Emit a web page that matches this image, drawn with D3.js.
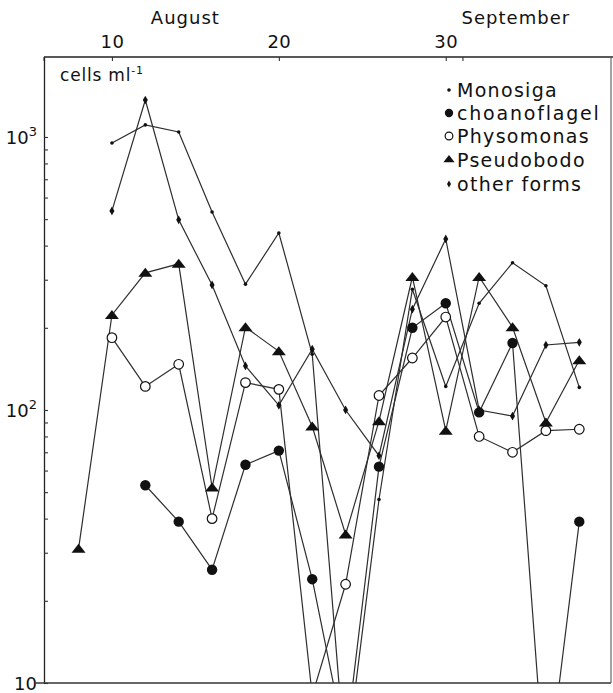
<!DOCTYPE html>
<html>
<head>
<meta charset="utf-8">
<script src="https://cdn.jsdelivr.net/npm/d3@7"></script>
<style>
  html, body { margin: 0; padding: 0; background: #fff; }
  svg { display: block; }
  text { font-family: "DejaVu Sans", sans-serif; fill: #111; }
</style>
</head>
<body>
<div id="chart"></div>
<script>
// ---- data (counts in cells ml-1; sampling day counted from 1 August) ----
const days = [8, 10, 12, 14, 16, 18, 20, 22, 24, 26, 28, 30, 32, 34, 36, 38];
const monosiga     = [null, 950, 1107, 1043, 531, 289, 445, 160, 5, 47, 277, 122, 246, 346, 285, 121];
const choanoflagel = [null, null, 53, 39, 26, 63, 71, 24, 6, 62, 200, 246, 98, 176, 4, 39];
const physomonas   = [null, 184, 122, 147, 40, 126, 119, 9, 23, 113, 155, 219, 80, 70, 84, 85];
const pseudobodo   = [31, 223, 318, 343, 52, 201, 164, 87, 35, 91, 307, 84, 307, 201, 90, 152];
const otherForms   = [null, 536, 1366, 497, 287, 145, 104, 167, 100, 68, 234, 423, 100, 95, 173, 177];

const seriesNames = ["Monosiga", "choanoflagel", "Physomonas", "Pseudobodo", "other forms"];
const xTickValues = [10, 20, 30, 31];
const xTickLabels = ["10", "20", "30", ""];
const monthLabels = ["August", "September"];
const monthDays = [14.4, 34.2];
const yMajorTicks = [10, 100, 1000];
const yTickExponents = ["", "2", "3"];
const unitLabel = "cells ml";

(function () {
const W = 613, H = 693;
const mL = 44, mR = 611, mT = 57, mB = 683;

const svg = d3.select("#chart").append("svg").attr("width", W).attr("height", H);

const x = d3.scaleLinear().domain([5.93, 39.9]).range([mL, mR]);
const y = d3.scaleLog().domain([10, 1963]).range([mB, mT]);

svg.append("clipPath").attr("id", "plotclip")
  .append("rect").attr("x", mL).attr("y", mT).attr("width", mR - mL).attr("height", mB - mT);

// left axis with inward ticks
const minorTicks = [];
[10, 100, 1000].forEach(d => { for (let k = 1; k <= 9; k++) { const v = d * k; if (v <= 1963) minorTicks.push(v); } });
const yAxis = d3.axisLeft(y).tickValues(minorTicks).tickSizeInner(-4).tickSizeOuter(0).tickFormat("");
svg.append("g").attr("transform", `translate(${mL},0)`).call(yAxis)
  .call(g => g.select(".domain").attr("stroke", "#222").attr("stroke-width", 1.3))
  .call(g => g.selectAll(".tick line").attr("stroke", "#333").attr("stroke-width", 1.1));

yMajorTicks.forEach((v, i) => {
  const t = svg.append("text").attr("x", 37).attr("y", y(v) + 7).attr("text-anchor", "end")
    .attr("font-size", 18);
  t.append("tspan").text("10");
  if (yTickExponents[i]) t.append("tspan").attr("dy", -8).attr("font-size", 13).text(yTickExponents[i]);
});

// top axis
const xAxis = d3.axisTop(x).tickValues(xTickValues).tickSizeInner(-4).tickSizeOuter(0)
  .tickPadding(9).tickFormat((d, i) => xTickLabels[i]);
svg.append("g").attr("transform", `translate(0,${mT})`).call(xAxis)
  .call(g => g.select(".domain").attr("d", `M${mL},0H${W}`).attr("stroke", "#222").attr("stroke-width", 1.3))
  .call(g => g.selectAll(".tick line").attr("stroke", "#333").attr("stroke-width", 1.1))
  .call(g => g.selectAll(".tick text").attr("font-size", 18).attr("fill", "#111")
    .attr("font-family", "DejaVu Sans").attr("letter-spacing", 0.5));

svg.append("line").attr("x1", mL).attr("x2", mL).attr("y1", mT).attr("y2", mT + 4).attr("stroke", "#222");

svg.append("line").attr("x1", mL - 8).attr("x2", mR).attr("y1", mB).attr("y2", mB)
  .attr("stroke", "#333").attr("stroke-width", 1.3);
svg.append("line").attr("x1", mR).attr("x2", mR).attr("y1", mT).attr("y2", mB)
  .attr("stroke", "#666").attr("stroke-width", 1.2);

monthLabels.forEach((m, i) => {
  svg.append("text").attr("x", x(monthDays[i])).attr("y", 24).attr("text-anchor", "middle")
    .attr("font-size", 18).attr("letter-spacing", 1).text(m);
});

const ul = svg.append("text").attr("x", 60).attr("y", 81).attr("font-size", 17).attr("letter-spacing", 0.8);
ul.append("tspan").text(unitLabel);
ul.append("tspan").attr("dy", -7).attr("font-size", 11).text("-1");

// series
const plot = svg.append("g").attr("clip-path", "url(#plotclip)");
const allSeries = [monosiga, choanoflagel, physomonas, pseudobodo, otherForms];
const line = d3.line().defined(d => d.v != null).x(d => x(d.day)).y(d => y(d.v));

allSeries.forEach((vals) => {
  const pts = days.map((d, i) => ({ day: d, v: vals[i] }));
  plot.append("path").datum(pts).attr("d", line)
    .attr("fill", "none").attr("stroke", "#2e2e2e").attr("stroke-width", 1.2);
});

function drawMarker(g, type, cx, cy, s) {
  s = s || 1;
  if (type === 0) {
    g.append("circle").attr("cx", cx).attr("cy", cy).attr("r", 1.8).attr("fill", "#111");
  } else if (type === 1) {
    g.append("circle").attr("cx", cx).attr("cy", cy).attr("r", 5.2 * s).attr("fill", "#111");
  } else if (type === 2) {
    g.append("circle").attr("cx", cx).attr("cy", cy).attr("r", 4.8 * s).attr("fill", "#fff")
      .attr("stroke", "#111").attr("stroke-width", 1.2);
  } else if (type === 3) {
    g.append("path").attr("d", `M${cx - 7 * s},${cy + 4 * s}L${cx},${cy - 5 * s}L${cx + 7 * s},${cy + 4 * s}Z`).attr("fill", "#111");
  } else {
    g.append("path").attr("d", d3.symbol().type(d3.symbolDiamond).size(22 * s * s)())
      .attr("transform", `translate(${cx},${cy})`).attr("fill", "#111");
  }
}

allSeries.forEach((vals, si) => {
  days.forEach((d, i) => {
    const v = vals[i];
    if (v == null || v < 10) return;
    drawMarker(plot, si, x(d), y(v));
  });
});

// legend
const legY = [90, 113, 136, 160, 184];
const lg = svg.append("g");
seriesNames.forEach((n, i) => {
  drawMarker(lg, i, 449, legY[i] - (i === 3 ? 1 : 0), 0.8);
  lg.append("text").attr("x", 457).attr("y", legY[i] + 7).attr("font-size", 19)
    .attr("letter-spacing", i === 1 ? 1.8 : 1.3).text(n);
});
})();
</script>
</body>
</html>
